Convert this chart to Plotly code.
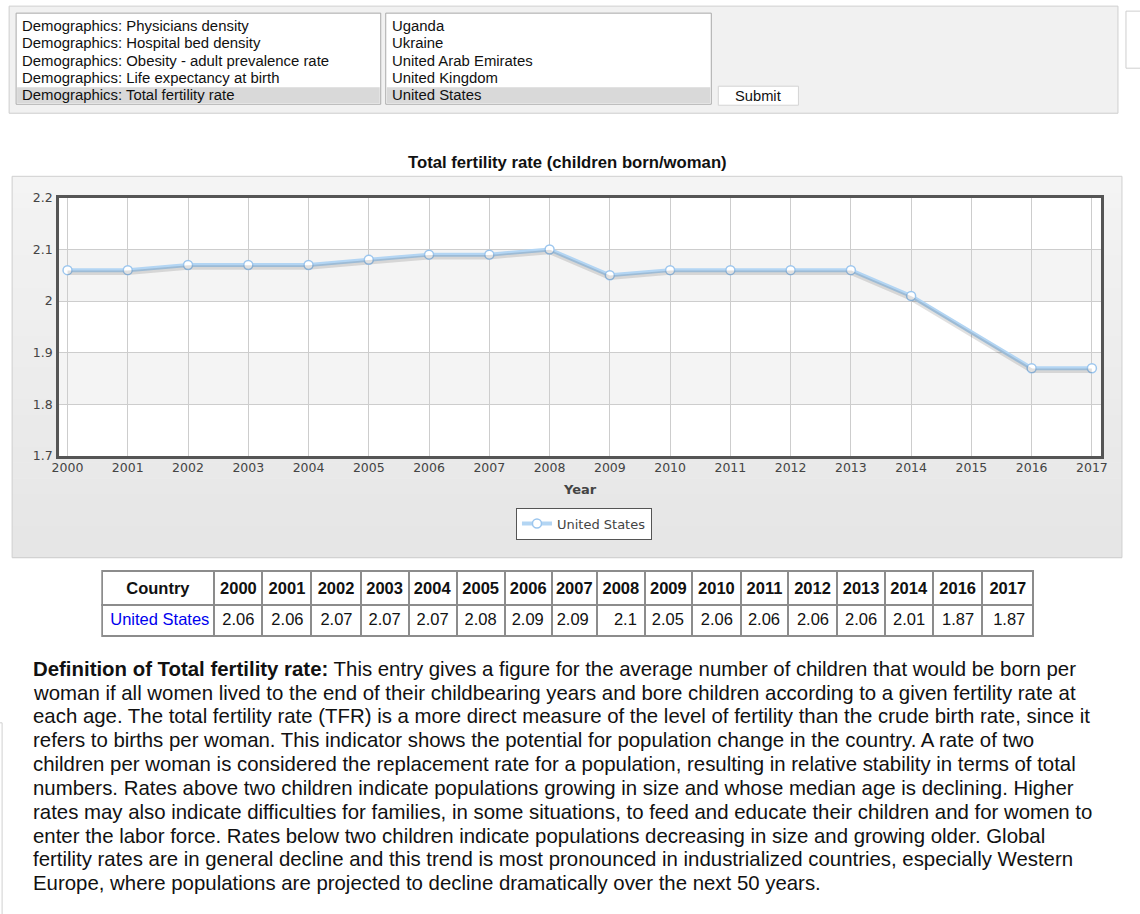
import plotly.graph_objects as go

# Target picture coordinates are mapped onto the figure (the page is captured
# with the 8px default body margin and scaled to 1140x914).
PIC_W, PIC_H = 1140, 914
SX, SY = 1156 / 1140, 930 / 914
OFF = 8
W, H = 1148, 922

# ---------------- data ----------------
years = [2000, 2001, 2002, 2003, 2004, 2005, 2006, 2007, 2008, 2009,
         2010, 2011, 2012, 2013, 2014, 2016, 2017]
fertility = [2.06, 2.06, 2.07, 2.07, 2.07, 2.08, 2.09, 2.09, 2.1, 2.05,
             2.06, 2.06, 2.06, 2.06, 2.01, 1.87, 1.87]
country = "United States"
indicator_items = ["Demographics: Physicians density",
                   "Demographics: Hospital bed density",
                   "Demographics: Obesity - adult prevalence rate",
                   "Demographics: Life expectancy at birth",
                   "Demographics: Total fertility rate"]
country_items = ["Uganda", "Ukraine", "United Arab Emirates",
                 "United Kingdom", "United States"]
chart_title = "Total fertility rate (children born/woman)"
definition_lines = [
    "<b>Definition of Total fertility rate:</b> This entry gives a figure for the average number of children that would be born per",
    "woman if all women lived to the end of their childbearing years and bore children according to a given fertility rate at",
    "each age. The total fertility rate (TFR) is a more direct measure of the level of fertility than the crude birth rate, since it",
    "refers to births per woman. This indicator shows the potential for population change in the country. A rate of two",
    "children per woman is considered the replacement rate for a population, resulting in relative stability in terms of total",
    "numbers. Rates above two children indicate populations growing in size and whose median age is declining. Higher",
    "rates may also indicate difficulties for families, in some situations, to feed and educate their children and for women to",
    "enter the labor force. Rates below two children indicate populations decreasing in size and growing older. Global",
    "fertility rates are in general decline and this trend is most pronounced in industrialized countries, especially Western",
    "Europe, where populations are projected to decline dramatically over the next 50 years.",
]

ARIAL = "Arial, Liberation Sans, Helvetica, sans-serif"
VERD = "Verdana, DejaVu Sans, sans-serif"


def px(x):
    return (x * SX - OFF) / W


def py(y):
    return 1 - (y * SY - OFF) / H


shapes = []
annotations = []


def rect(x0, y0, x1, y1, fill, line="rgba(0,0,0,0)", lw=1, layer="below"):
    shapes.append(dict(type="rect", xref="paper", yref="paper",
                       x0=px(x0), x1=px(x1), y0=py(y1), y1=py(y0),
                       fillcolor=fill, line=dict(color=line, width=lw),
                       layer=layer))


def text(x, y, s, size=14, color="#111", family=ARIAL, xanchor="left"):
    annotations.append(dict(xref="paper", yref="paper", x=px(x), y=py(y),
                            text=s, showarrow=False, xanchor=xanchor,
                            yanchor="middle", align="left",
                            font=dict(size=size, color=color, family=family)))


# ---------------- top form ----------------
rect(10, 6, 1117, 113, "#f1f1f1", "#cfcfcf")
rect(1125, 11, 1150, 68, "#ffffff", "#cfcfcf")
# indicator list box
rect(17, 13, 381, 104, "#ffffff", "#a9a9a9")
rect(18, 87, 380, 103, "#d9d9d9")
for i, s in enumerate(indicator_items):
    text(21, 26 + 17.2 * i, s, size=14.9, color="#111")
# country list box
rect(386, 13, 711, 104, "#ffffff", "#a9a9a9")
rect(387, 87, 710, 103, "#d9d9d9")
for i, s in enumerate(country_items):
    text(390, 26 + 17.2 * i, s, size=14.9, color="#111")
# submit button
rect(718, 86, 798, 105, "#ffffff", "#d4d4d4")
text(758, 95.5, "Submit", size=14.7, color="#111", xanchor="center")

# ---------------- chart panel ----------------
text(567, 162, "<b>" + chart_title + "</b>", size=16.7, color="#111",
     xanchor="center")
n = 24
top, bot = 176, 557
for k in range(n):
    y0 = top + (bot - top) * k / n
    y1 = top + (bot - top) * (k + 1) / n
    c = int(244 - (244 - 230) * k / (n - 1))
    rect(13, y0, 1121, y1 + 0.5, f"rgb({c},{c},{c})")
rect(13, top, 1121, bot, "rgba(0,0,0,0)", "#cfcfcf")
# plot area background + alternating bands
shapes.append(dict(type="rect", xref="x domain", yref="y domain", x0=0, x1=1,
                   y0=0, y1=1, fillcolor="#ffffff", line=dict(width=0),
                   layer="below"))
for b0, b1 in [(2.0, 2.1), (1.8, 1.9)]:
    shapes.append(dict(type="rect", xref="x domain", yref="y", x0=0, x1=1,
                       y0=b0, y1=b1, fillcolor="#f4f4f4", line=dict(width=0),
                       layer="below"))

text(580, 489, "<b>Year</b>", size=13, color="#444", family=VERD,
     xanchor="center")

# left box corner at bottom-left
shapes.append(dict(type="path", xref="paper", yref="paper",
                   path=f"M {px(-10)} {py(722)} L {px(3)} {py(722)} L {px(3)} {py(930)}",
                   line=dict(color="#d0d0d0", width=1), layer="below"))

# ---------------- definition text ----------------
for i, s in enumerate(definition_lines):
    text(32, 668 + 23.8 * i, s, size=20.4, color="#111")

fig = go.Figure()
shadow_off = 0.5 / 258 * 2.5
fig.add_trace(go.Scatter(x=years, y=fertility, mode="lines",
                         line=dict(color="rgba(0,0,0,0.12)", width=4.5),
                         yaxis="y2", showlegend=False, hoverinfo="skip"))
fig.add_trace(go.Scatter(x=years, y=fertility, mode="lines+markers",
                         name=country,
                         line=dict(color="#b3d5f3", width=4),
                         marker=dict(symbol="circle", size=9, color="#ffffff",
                                     line=dict(color="#9cc6ee", width=1.5))))

# table
col_labels = ["Country"] + [str(y) for y in years]
col_vals = [[country.replace(" ", "\u00a0")]] + [[f"{v:g}"] for v in fertility]
col_widths = [112, 48, 49, 49, 48, 48, 48, 47, 45, 48, 47, 49, 47, 49, 48,
              48, 49, 51]
fig.add_trace(go.Table(
    domain=dict(x=[px(103), px(1033)], y=[py(640), py(570)]),
    columnwidth=col_widths,
    header=dict(values=["<b>" + c + "</b>" for c in col_labels],
                align="center", height=31 * SY, fill_color="#ffffff",
                line=dict(color="#8c8c8c", width=2),
                font=dict(family=ARIAL, size=16.5, color="#111")),
    cells=dict(values=col_vals,
               align=["left"] + ["right"] * len(years), height=31 * SY,
               fill_color="#ffffff",
               line=dict(color="#8c8c8c", width=2),
               font=dict(family=ARIAL, size=16.5,
                         color=["#0000ee"] + ["#111"] * len(years))),
))

axis_font = dict(family=VERD, size=12.5, color="#444")
fig.update_layout(
    width=W, height=H,
    margin=dict(l=0, r=0, t=0, b=0),
    paper_bgcolor="#ffffff",
    plot_bgcolor="rgba(0,0,0,0)",
    shapes=shapes,
    annotations=annotations,
    xaxis=dict(domain=[px(60), px(1100)], range=[1999.862, 2017.15],
               tick0=2000, dtick=1, showgrid=True, gridcolor="#cdcdcd",
               gridwidth=1, zeroline=False, showline=True, mirror=True,
               linecolor="#555555", linewidth=3, ticks="",
               tickfont=axis_font, ticklabelstandoff=-2),
    yaxis=dict(domain=[py(455.5), py(197.5)], range=[1.7, 2.2],
               tick0=1.7, dtick=0.1, showgrid=True, gridcolor="#cdcdcd",
               gridwidth=1, zeroline=False, showline=True, mirror=True,
               linecolor="#555555", linewidth=3, ticks="",
               tickfont=axis_font, ticklabelstandoff=1),
    yaxis2=dict(domain=[py(455.5), py(197.5)], overlaying="y",
                range=[1.7 + shadow_off, 2.2 + shadow_off], visible=False),
    legend=dict(x=px(516), y=py(507), xanchor="left", yanchor="top",
                bgcolor="#ffffff", bordercolor="#555555", borderwidth=1,
                font=dict(family=VERD, size=13, color="#444")),
    showlegend=True,
)

fig.write_html("out.html")
